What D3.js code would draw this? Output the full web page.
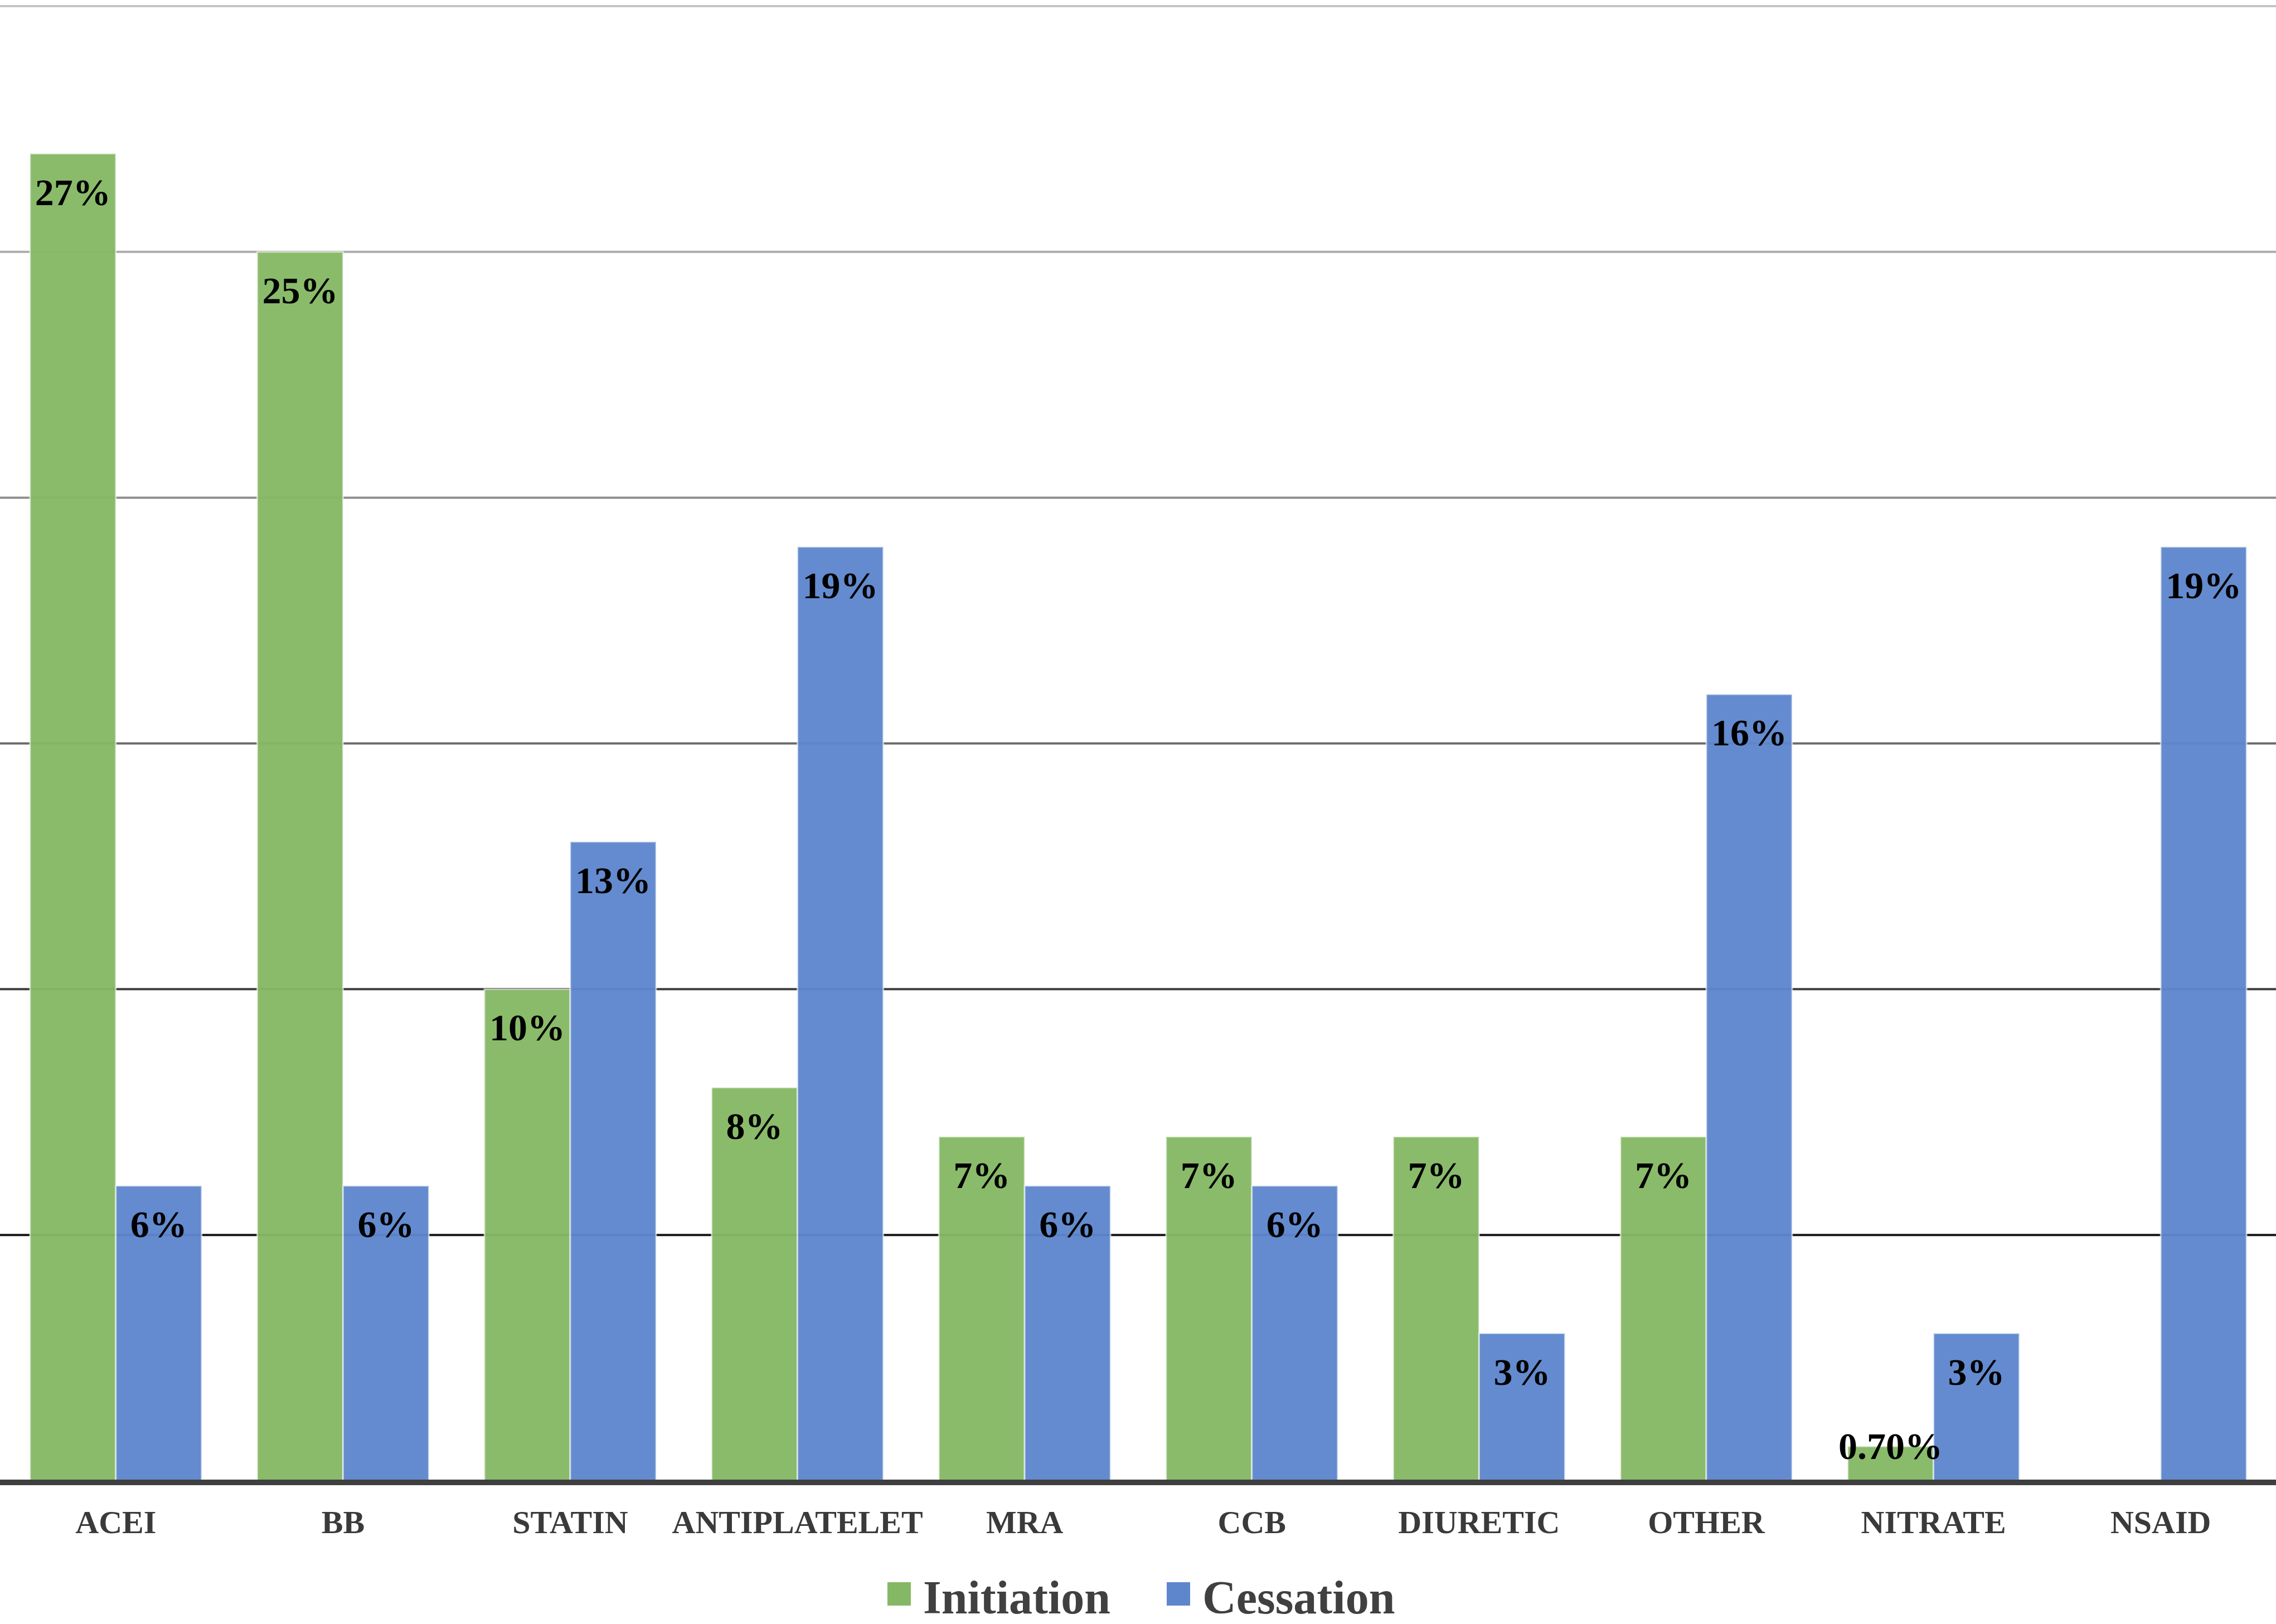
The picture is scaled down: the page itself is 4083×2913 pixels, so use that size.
<!DOCTYPE html>
<html>
<head>
<meta charset="utf-8">
<script src="https://cdn.jsdelivr.net/npm/d3@7"></script>
<style>
  body { margin: 0; background: #fff; }
  svg { display: block; }
</style>
</head>
<body>
<div id="chart"></div>
<script>
var svgWidth = 4083;
var svgHeight = 2913;

// data
var categories = ["ACEI", "BB", "STATIN", "ANTIPLATELET", "MRA", "CCB", "DIURETIC", "OTHER", "NITRATE", "NSAID"];
var initiation = [27, 25, 10, 8, 7, 7, 7, 7, 0.7, null];
var cessation = [6, 6, 13, 19, 6, 6, 3, 16, 3, 19];
var initiationLabels = ["27%", "25%", "10%", "8%", "7%", "7%", "7%", "7%", "0.70%", ""];
var cessationLabels = ["6%", "6%", "13%", "19%", "6%", "6%", "3%", "16%", "3%", "19%"];
var seriesNames = ["Initiation", "Cessation"];
var gridTicks = [5, 10, 15, 20, 25, 30];

var colors = { Initiation: "#85B864", Cessation: "#5E86CD" };
// gridlines fade from dark at the bottom to light at the top
var gridColors = { 5: "#151515", 10: "#3e3e3e", 15: "#6a6a6a", 20: "#8e8e8e", 25: "#ababab", 30: "#c4c4c4" };

var svg = d3.select("#chart")
    .append("svg")
    .attr("width", svgWidth)
    .attr("height", svgHeight);

var x0 = d3.scaleBand()
    .domain(categories)
    .range([4, 4080])
    .paddingInner(0)
    .paddingOuter(0);

var x1 = d3.scaleBand()
    .domain(seriesNames)
    .range([0, 308]);

var y = d3.scaleLinear()
    .domain([0, 30])
    .range([2656, 11]);

// gridlines
svg.append("g")
    .selectAll("line")
    .data(gridTicks)
    .enter()
    .append("line")
    .attr("x1", 0)
    .attr("x2", svgWidth)
    .attr("y1", d => y(d))
    .attr("y2", d => y(d))
    .attr("stroke", d => gridColors[d])
    .attr("stroke-width", 4);

var rows = categories.map(function(c, i) {
    return [
        { cat: c, series: "Initiation", value: initiation[i], label: initiationLabels[i] },
        { cat: c, series: "Cessation", value: cessation[i], label: cessationLabels[i] }
    ];
});
var bars = d3.merge(rows).filter(d => d.value != null);

var pairOffset = (x0.bandwidth() - 308) / 2;

svg.append("g")
    .selectAll("rect")
    .data(bars)
    .enter()
    .append("rect")
    .attr("x", d => x0(d.cat) + pairOffset + x1(d.series))
    .attr("y", d => y(d.value))
    .attr("width", x1.bandwidth())
    .attr("height", d => y(0) - y(d.value))
    .attr("fill", d => colors[d.series])
    .attr("fill-opacity", 0.96)
    .attr("stroke", "#ffffff")
    .attr("stroke-opacity", 0.55)
    .attr("stroke-width", 3);

// value labels, inside the end of each bar
svg.append("g")
    .selectAll("text")
    .data(bars)
    .enter()
    .append("text")
    .attr("x", d => x0(d.cat) + pairOffset + x1(d.series) + x1.bandwidth() / 2)
    .attr("y", d => Math.min(y(d.value) + 92, y(0) - 39))
    .attr("text-anchor", "middle")
    .style("font-family", "'Liberation Serif', 'DejaVu Serif', serif")
    .style("font-weight", "bold")
    .style("font-size", "68px")
    .attr("fill", "#000")
    .text(d => d.label);

// axis line
svg.append("line")
    .attr("x1", 0)
    .attr("x2", svgWidth)
    .attr("y1", y(0) + 3)
    .attr("y2", y(0) + 3)
    .attr("stroke", "#3f3f3f")
    .attr("stroke-width", 10);

// category labels
var bottomAxis = d3.axisBottom(x0).tickSize(0).tickPadding(0);
var XAxis = svg.append("g")
    .attr("transform", "translate(0, 2750)")
    .call(bottomAxis);
XAxis.select(".domain").remove();
XAxis.selectAll("text")
    .attr("dy", 0)
    .attr("y", 0)
    .style("font-family", "'Liberation Serif', 'DejaVu Serif', serif")
    .style("font-weight", "bold")
    .style("font-size", "58px")
    .attr("fill", "#3a3a3a");

// legend
var legendItems = [
    { name: "Initiation", x: 1592 },
    { name: "Cessation", x: 2093 }
];
var legend = svg.append("g")
    .selectAll("g")
    .data(legendItems)
    .enter()
    .append("g")
    .attr("transform", d => `translate(${d.x}, 2838)`);
legend.append("rect")
    .attr("width", 42)
    .attr("height", 42)
    .attr("fill", d => colors[d.name]);
legend.append("text")
    .attr("x", 64)
    .attr("y", 56)
    .style("font-family", "'Liberation Serif', 'DejaVu Serif', serif")
    .style("font-weight", "bold")
    .style("font-size", "84px")
    .attr("fill", "#404040")
    .text(d => d.name);
</script>
</body>
</html>
